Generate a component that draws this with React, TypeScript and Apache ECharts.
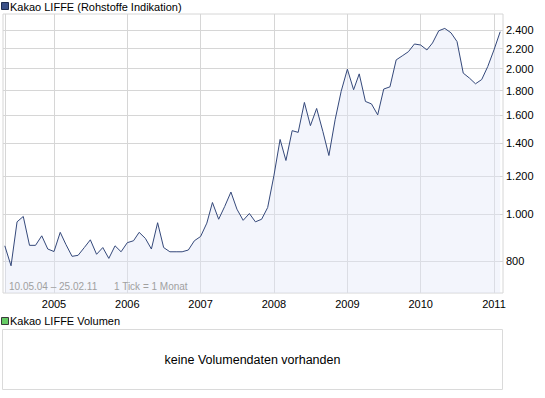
import React, { useEffect, useRef } from 'react';
import * as echarts from 'echarts';

// Monthly closing values, May 2004 .. Feb 2011 (one value per month)
const startYear = 2004;
const startMonth = 5;
const priceValues = [
  // 2004 (May-Dec)
  860, 782, 964, 989, 862, 862, 902, 847,
  // 2005
  837, 917, 866, 818, 822, 853, 885, 826, 853, 810, 860, 836,
  // 2006
  873, 881, 917, 891, 847, 960, 853, 836, 836, 836, 843, 881,
  // 2007
  899, 958, 1057, 976, 1037, 1111, 1024, 971, 1003, 964, 976, 1032,
  // 2008
  1200, 1427, 1291, 1488, 1476, 1702, 1524, 1654, 1482, 1322, 1568, 1794,
  // 2009
  1994, 1808, 1950, 1710, 1690, 1604, 1814, 1833, 2084, 2124, 2167, 2248,
  // 2010
  2237, 2185, 2259, 2394, 2421, 2371, 2274, 1957, 1911, 1860, 1898, 2019,
  // 2011 (Jan-Feb)
  2185, 2383,
];

const yTickValues = [800, 1000, 1200, 1400, 1600, 1800, 2000, 2200, 2400];
const xTickYears = [2005, 2006, 2007, 2008, 2009, 2010, 2011];

const titleText = 'Kakao LIFFE (Rohstoffe Indikation)';
const volumeTitle = 'Kakao LIFFE Volumen';
const noVolumeText = 'keine Volumendaten vorhanden';
const rangeText = '10.05.04 – 25.02.11';
const tickText = '1 Tick = 1 Monat';

const FONT = '"Liberation Sans", Arial, sans-serif';

function fmtThousands(v: number): string {
  return String(Math.round(v)).replace(/\B(?=(\d{3})+(?!\d))/g, '.');
}

export default function App() {
  const ref = useRef<HTMLDivElement>(null);

  useEffect(() => {
    if (!ref.current) return;
    const chart = echarts.init(ref.current, null, { renderer: 'svg' });

    const data = priceValues.map((v, i) => [
      Date.UTC(startYear, startMonth - 1 + i, 1),
      v,
    ]);
    const yearTicks = xTickYears.map((y) => Date.UTC(y, 0, 1));
    const gridTicks = [Date.UTC(startYear, startMonth - 1, 1), ...yearTicks];

    const gridColor = '#d6d6d6';
    const boxColor = '#dadada';

    const option: any = {
      animation: false,
      grid: {
        left: 3,
        top: 14,
        width: 500,
        height: 279,
        show: true,
        borderColor: gridColor,
        borderWidth: 1,
      },
      xAxis: {
        type: 'value',
        min: Date.UTC(2004, 3, 22),
        max: Date.UTC(2011, 1, 15),
        axisLine: { show: false },
        axisTick: { show: false, customValues: gridTicks },
        splitLine: { show: true, lineStyle: { color: gridColor, width: 1 } },
        axisLabel: {
          customValues: yearTicks,
          formatter: (val: number) => String(new Date(val).getUTCFullYear()),
          color: '#000',
          fontSize: 11,
          fontFamily: FONT,
          margin: 5,
        },
      },
      yAxis: {
        type: 'log',
        position: 'right',
        min: 687,
        max: 2593,
        axisLine: { show: false },
        axisTick: { show: false, customValues: yTickValues },
        splitLine: { show: true, lineStyle: { color: gridColor, width: 1 } },
        axisLabel: {
          customValues: yTickValues,
          formatter: (val: number) => fmtThousands(val),
          color: '#000',
          fontSize: 11,
          fontFamily: FONT,
          margin: 3,
        },
      },
      series: [
        {
          type: 'line',
          data,
          symbol: 'none',
          lineStyle: { color: '#34487a', width: 1 },
          areaStyle: { color: 'rgba(227,232,247,0.6)', origin: 'start' },
        },
      ],
      graphic: [
        {
          type: 'rect',
          shape: { x: 1.5, y: 2.5, width: 7, height: 7 },
          style: { fill: '#3a5088', stroke: '#1e2c50', lineWidth: 1 },
        },
        {
          type: 'text',
          style: {
            text: titleText,
            x: 10,
            y: 6.5,
            fill: '#000',
            font: `11px ${FONT}`,
            verticalAlign: 'middle',
          },
        },
        {
          type: 'text',
          z: 100,
          style: {
            text: rangeText,
            x: 9,
            y: 286,
            fill: '#a0a0a0',
            font: `10px ${FONT}`,
            verticalAlign: 'middle',
          },
        },
        {
          type: 'text',
          z: 100,
          style: {
            text: tickText,
            x: 114,
            y: 286,
            fill: '#a0a0a0',
            font: `10px ${FONT}`,
            verticalAlign: 'middle',
          },
        },
        {
          type: 'rect',
          shape: { x: 1.5, y: 317.5, width: 7, height: 7 },
          style: { fill: '#66cc66', stroke: '#3a3a3a', lineWidth: 1 },
        },
        {
          type: 'text',
          style: {
            text: volumeTitle,
            x: 10,
            y: 321,
            fill: '#000',
            font: `11px ${FONT}`,
            verticalAlign: 'middle',
          },
        },
        {
          type: 'rect',
          shape: { x: 2.5, y: 329.5, width: 500, height: 60 },
          style: { fill: '#ffffff', stroke: boxColor, lineWidth: 1 },
        },
        {
          type: 'text',
          style: {
            text: noVolumeText,
            x: 252.5,
            y: 360,
            fill: '#000',
            font: `12.5px ${FONT}`,
            align: 'center',
            verticalAlign: 'middle',
          },
        },
      ],
    };

    chart.setOption(option);
    return () => {
      chart.dispose();
    };
  }, []);

  return (
    <div
      ref={ref}
      style={{
        position: 'fixed',
        left: 0,
        top: 0,
        width: 545,
        height: 398,
        background: '#fff',
      }}
    />
  );
}
